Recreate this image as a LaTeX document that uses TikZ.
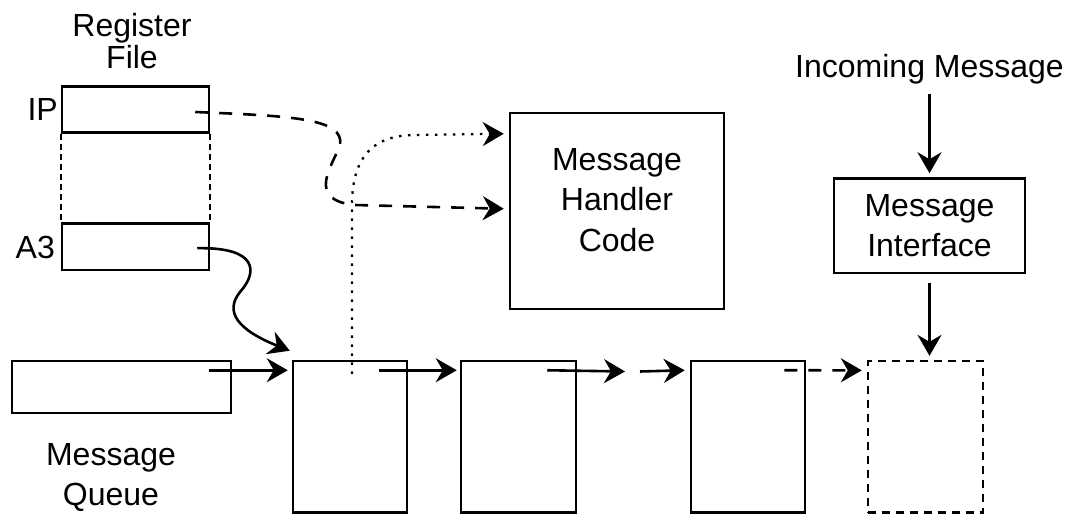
\documentclass[tikz,border=0pt]{standalone}
\usepackage{fontspec}
\setmainfont{Liberation Sans}
\usetikzlibrary{arrows.meta,calc}
\begin{document}
\begin{tikzpicture}[x=1pt,y=-1pt,
  box/.style={draw, line width=2.5pt, inner sep=0pt, rectangle},
  lbl/.style={inner sep=0pt, font=\fontsize{32}{40}\selectfont, align=center},
  tip/.style={-{Stealth[length=21pt,width=24pt,inset=7pt]}},
  arr/.style={line width=2.6pt, tip},
  dsh/.style={line width=2.6pt, dash pattern=on 13pt off 11pt, tip},
  dotted arrow/.style={line width=2.3pt, dash pattern=on 2.5pt off 6.5pt, tip},
  regdots/.style={line width=2.2pt, dash pattern=on 6pt off 4pt},
]
\useasboundingbox (0,0) rectangle (1068,514);

% register file
\node[lbl, font=\fontsize{32}{32}\selectfont] (rf) at (132,41) {Register\\File};
\node[box, minimum width=147pt, minimum height=45.6pt] (ip) at (135.5,109.5) {};
\node[box, minimum width=147pt, minimum height=46.7pt] (a3) at (135.5,246.7) {};
\node[lbl, anchor=east] (iplbl) at (58,109) {IP};
\node[lbl, anchor=east] (a3lbl) at (55,247) {A3};
\draw[regdots] (ip.south west) -- (a3.north west);
\draw[regdots] (ip.south east) -- (a3.north east);

% message handler
\node[box, minimum width=214pt, minimum height=196pt] (mh) at (617,211) {};
\node[lbl, font=\fontsize{32}{40.5}\selectfont] (mhtext) at (617,200) {Message\\Handler\\Code};

% incoming message and interface
\node[lbl, anchor=base] (inc) at (929.5,77.5) {Incoming Message};
\node[box, lbl, minimum width=191pt, minimum height=94.5pt] (mi) at (929.5,225.75) {Message\\Interface};

% queue
\node[box, minimum width=219pt, minimum height=52pt] (mq) at (121.5,387) {};
\node[lbl] (mqlbl) at (111,478) {Message\\Queue};
\node[box, minimum width=114pt, minimum height=151.5pt] (b1) at (350,436.75) {};
\node[box, minimum width=115pt, minimum height=151.5pt] (b2) at (518.5,436.75) {};
\node[box, minimum width=114pt, minimum height=151.5pt] (b3) at (748,436.75) {};
\node[draw, inner sep=0pt, line width=2.3pt, dash pattern=on 8pt off 6pt,
      minimum width=115pt, minimum height=151.5pt] (b4) at (925.5,436.75) {};

\coordinate (g1) at (625,371.5);
\coordinate (g2) at (640,371.5);

% queue arrows
\draw[arr] ($(mq.north east)+(-23,10.5)$) -- ($(b1.north west)+(-4,10.5)$);
\draw[arr] ($(b1.north east)+(-29,10.5)$) -- ($(b2.north west)+(-3,10.5)$);
\draw[arr] ($(b2.north east)+(-30,10.5)$) -- (g1);
\draw[arr] (g2) -- ($(b3.north west)+(-5,10.5)$);
\draw[dsh] ($(b3.north east)+(-22,10.5)$) -- ($(b4.north west)+(-5,10.5)$);

% vertical arrows
\draw[arr] ($(inc.base)+(0,16.5)$) -- ($(mi.north)+(0,-4)$);
\draw[arr] ($(mi.south)+(0,8.5)$) -- ($(b4.north -| mi.south)+(0,-4)$);

% IP -> handler (dashed)
\draw[dsh] ($(ip.east)+(-15,2.5)$) .. controls (290,116) and (345,118) .. (340,145)
   .. controls (333,165) and (305,200) .. (355,205) -- ($(mh.north west)+(-5,97)$);

% queue element -> handler (dotted)
\draw[dotted arrow] ($(b1.north)+(2,14)$) -- (352,205) .. controls (352,150) and (380,135) .. (415,135)
   -- ($(mh.north west)+(-5,22)$);

% A3 -> queue head
\draw[arr] ($(a3.east)+(-13,1.5)$) .. controls (258,247) and (258,272) .. (240,292)
   .. controls (224,312) and (238,330) .. ($(b1.north west)+(-2,-9)$);
\end{tikzpicture}
\end{document}
